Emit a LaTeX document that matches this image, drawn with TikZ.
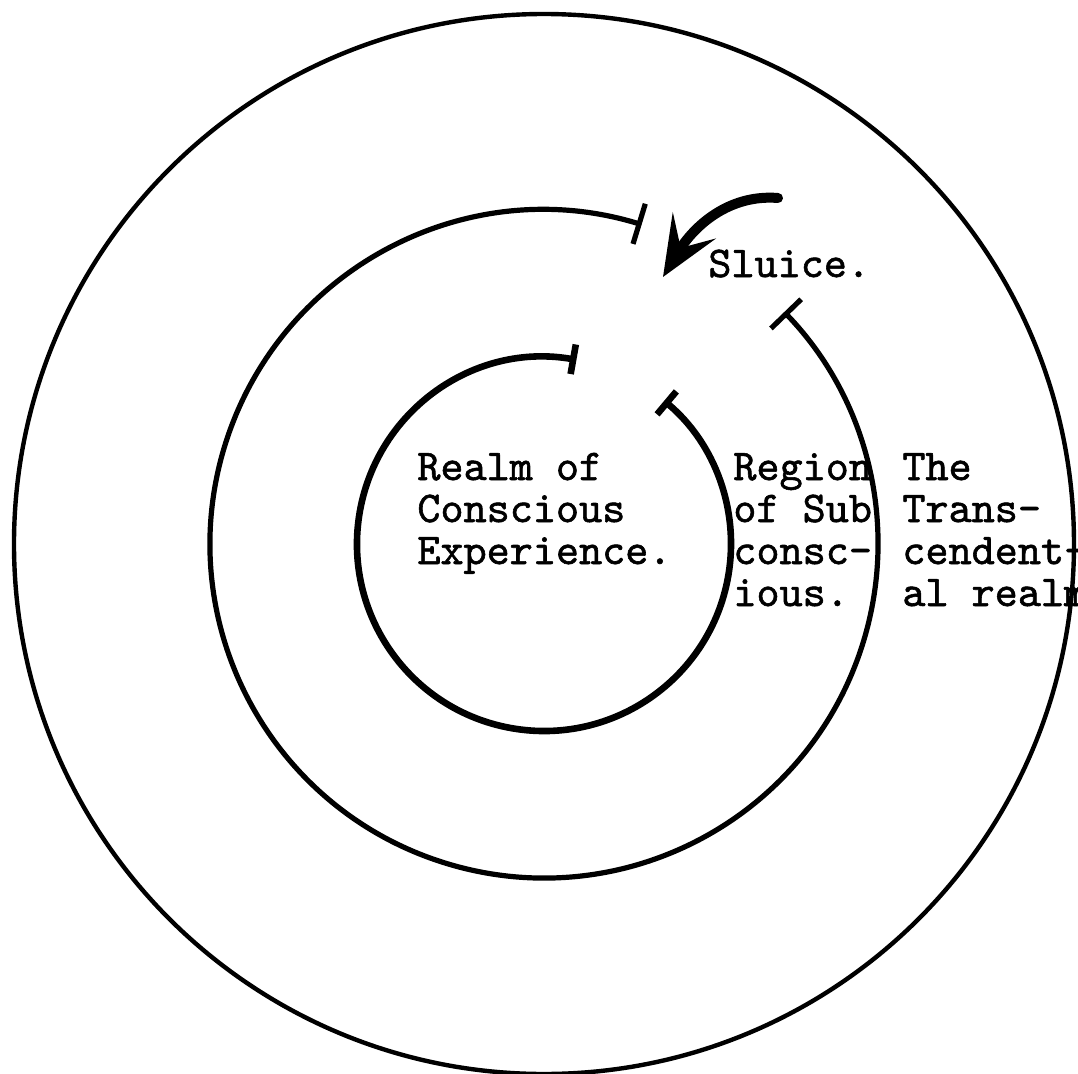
\documentclass[tikz,border=0pt]{standalone}
\usepackage{fontspec}
\newfontfamily\typer[Extension=.otf, FakeBold=1.3]{lmmono10-regular}
\usetikzlibrary{arrows.meta,positioning}
\tikzset{
  % Base style (1 unit = one pixel of the scan)
  diagram base/.style={
    x=0.5pt, y=0.5pt,
    line cap=round,
  },
  % Rings of the mind
  outer ring/.style={draw, line width=2.2pt},
  middle ring/.style={draw, line width=2.6pt, {Bar[width=21pt]}-{Bar[width=21pt]}},
  inner ring/.style={draw, line width=3.3pt, {Bar[width=15pt]}-{Bar[width=15pt]}},
  % Sluice arrow
  sluice arrow/.style={line width=5pt, -{Stealth[length=30pt, width=25pt, inset=13pt]}},
  % Typed labels (anchored at the baseline of the last line)
  typed label/.style={font=\typer\fontsize{22}{21}\selectfont, align=left,
    anchor=base west, inner sep=0pt},
}

\begin{document}
\begin{tikzpicture}[diagram base]
\useasboundingbox (-544,-529) rectangle (534,544);

% Transcendental realm (closed circle)
\draw[outer ring] (0,0) circle[radius=530];

% Subconscious region, open at the sluice
\draw[middle ring] (73:334) arc[start angle=73, end angle=404, radius=334];

% Conscious realm, open towards the subconscious
\draw[inner ring] (80:187) arc[start angle=80, end angle=410, radius=187];

% Labels
\node[typed label] (conscious) at (-127,-20) {Realm of\\Conscious\\Experience.};
\node[typed label] (subconscious) at (189,-62) {Region\\of Sub\\consc-\\ious.};
\node[typed label] (transcendental) at (358,-62) {The\\Trans-\\cendent-\\al realm};
\node[typed label] (sluice) at (164,267) {Sluice.};

% Sluice arrow
\coordinate (sluice tail) at (234,346);
\coordinate (sluice tip) at (119,267);
\draw[sluice arrow] (sluice tail) .. controls (185,350) and (150,318) .. (sluice tip);
\end{tikzpicture}
\end{document}
